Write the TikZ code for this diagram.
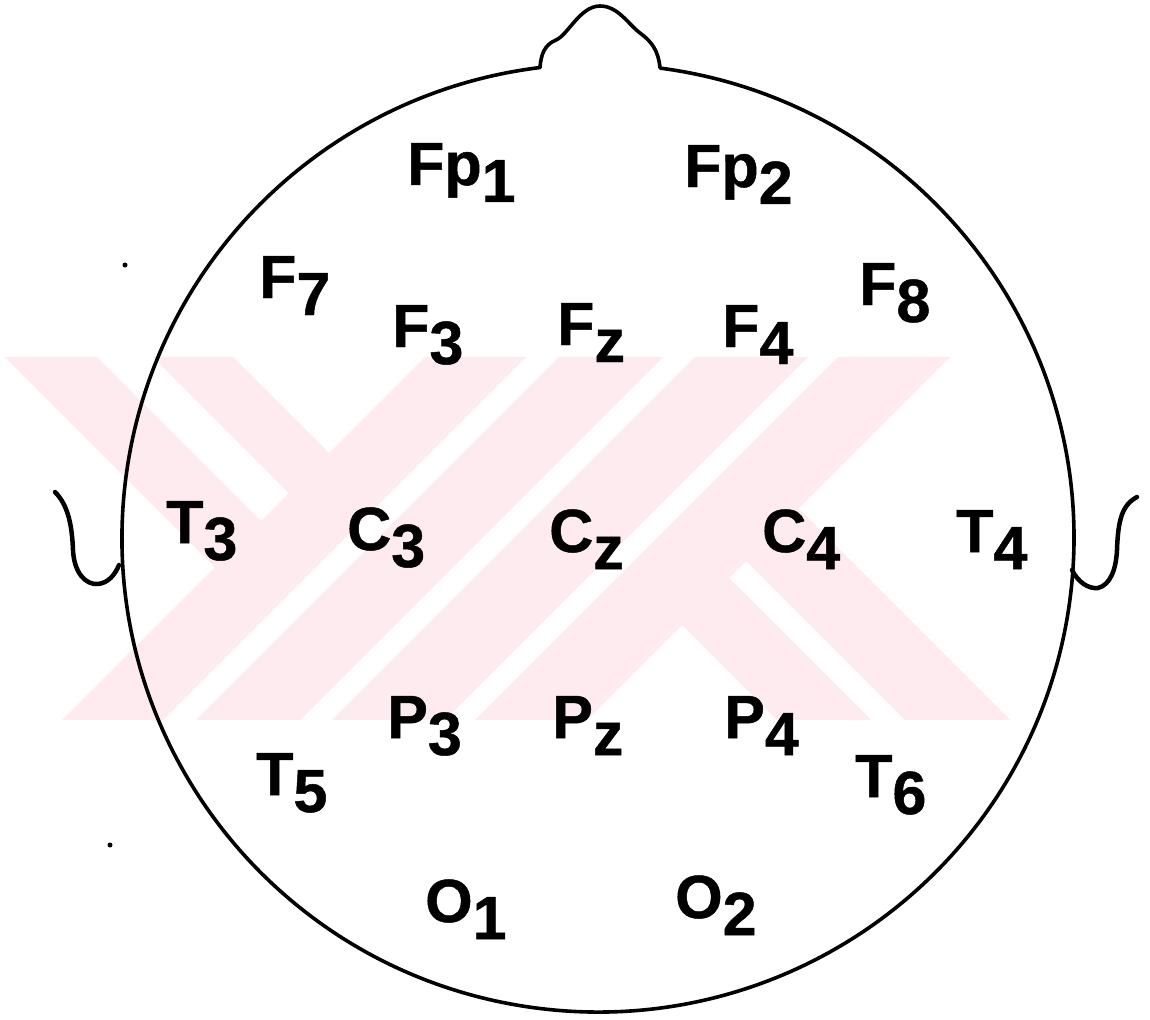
\documentclass[tikz,border=0pt]{standalone}
\usepackage{fontspec}
\setmainfont{Liberation Sans}
\newfontfamily\lblfont{Liberation Sans Bold}[FakeBold=0.8]
\definecolor{wm}{RGB}{253,235,239}
\newcommand{\dn}[1]{\raisebox{-17pt}{#1}}
\begin{document}
\begin{tikzpicture}[x=1pt,y=-1pt,
  outline/.style={draw=black,line width=3.6pt,line cap=round,line join=round},
  lbl/.style={anchor=base west,inner sep=0pt,font=\fontsize{61}{61}\selectfont\lblfont}]
\useasboundingbox (0,0) rectangle (1150,1019);
\fill[white] (0,0) rectangle (1150,1019);
% watermark
\begin{scope}
\clip (0,357) rectangle (1150,720);
\fill[wm] (425,357) -- (526,357) -- (163,720) -- (62,720) -- cycle;
\fill[wm] (559,357) -- (663,357) -- (300,720) -- (196,720) -- cycle;
\fill[wm] (695,357) -- (808,357) -- (445,720) -- (332,720) -- cycle;
\fill[wm] (838,357) -- (950,357) -- (587,720) -- (475,720) -- cycle;
\fill[wm] (5,357) -- (97,357) -- (295,555) -- (249,601) -- cycle;
\fill[wm] (153,357) -- (233,357) -- (363,487) -- (323,527) -- cycle;
\fill[wm] (653.5,596.5) -- (700.5,549.5) -- (871,720) -- (777,720) -- cycle;
\fill[wm] (717.5,532.5) -- (770,480) -- (1010,720) -- (905,720) -- cycle;
\end{scope}
% head
\draw[outline] (660.1,68.1) arc[start angle=-82.5,end angle=263,x radius=476,y radius=474]
  .. controls (541,55) and (544,45) .. (556,40)
  .. controls (568,35) and (580,6) .. (600,6)
  .. controls (618,6) and (628,24) .. (640,33)
  .. controls (652,42) and (658,50) .. (660.1,68.1);
% ears
\draw[outline,line width=4.5pt] (55,492) .. controls (68,505) and (72,525) .. (73,550)
  .. controls (74,572) and (85,585) .. (98,584)
  .. controls (108,583) and (115,575) .. (119,565);
\draw[outline,line width=4.5pt] (1072,570) .. controls (1078,582) and (1088,589) .. (1098,588)
  .. controls (1110,585) and (1116,570) .. (1117,550)
  .. controls (1118,520) and (1122,505) .. (1137,497);
% specks
\fill (125,265) circle (2.5);
\fill (110,845) circle (2.5);
% labels
\node[lbl] (fp1) at (407,185) {Fp\dn{1}};
\node[lbl] (fp2) at (684,187) {Fp\dn{2}};
\node[lbl] (f7) at (259,298) {F\dn{7}};
\node[lbl] (f3) at (392,347) {F\dn{3}};
\node[lbl] (fz) at (557,345) {F\dn{z}};
\node[lbl] (f4) at (722,347) {F\dn{4}};
\node[lbl] (f8) at (859,305) {F\dn{8}};
\node[lbl] (t3) at (166,543) {T\dn{3}};
\node[lbl] (c3) at (347,550) {C\dn{3}};
\node[lbl] (cz) at (549,552) {C\dn{z}};
\node[lbl] (c4) at (762,552) {C\dn{4}};
\node[lbl] (t4) at (956,552) {T\dn{4}};
\node[lbl] (p3) at (387,738) {P\dn{3}};
\node[lbl] (pz) at (552,738) {P\dn{z}};
\node[lbl] (p4) at (724,738) {P\dn{4}};
\node[lbl] (t5) at (256,795) {T\dn{5}};
\node[lbl] (t6) at (855,797) {T\dn{6}};
\node[lbl] (o1) at (425,922) {O\dn{1}};
\node[lbl] (o2) at (675,918) {O\dn{2}};
\end{tikzpicture}
\end{document}
